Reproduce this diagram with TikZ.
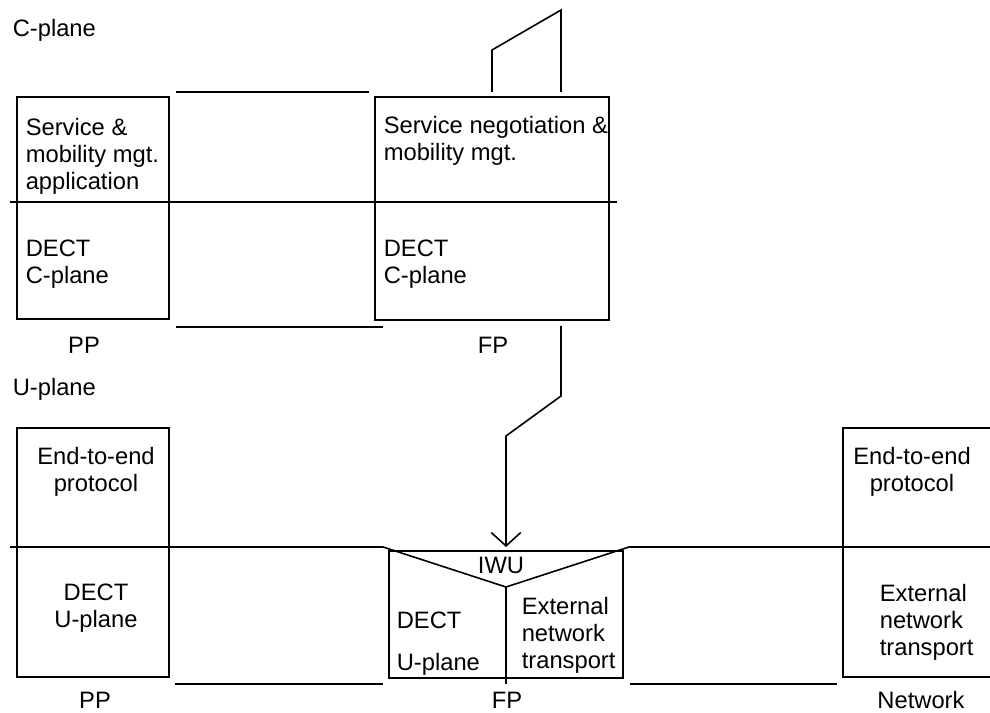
\documentclass[tikz,border=0pt]{standalone}
\usepackage{fontspec}
\setmainfont{Liberation Sans}
\usetikzlibrary{arrows.meta}
\tikzstyle{layer}=[draw, rectangle, inner sep=0pt, outer sep=0pt]
\tikzstyle{lbl}=[inner sep=0pt, align=left, anchor=west]
\tikzstyle{clbl}=[inner sep=0pt, align=center]

\begin{document}
\begin{tikzpicture}[x=0.75pt,y=-0.75pt,line width=1.2pt,font=\fontsize{17.8}{20.25}\selectfont]
  \useasboundingbox (0,0) rectangle (990,713);

  % C-plane
  \node at (12,30) (cpl)[lbl] {C-plane};
  \node[minimum width=114pt, minimum height=166.5pt] at (93,208) (ppc)[layer] {};
  \node[minimum width=175.5pt, minimum height=167.25pt] at (492,208.5) (fpc)[layer] {};
  \node at (25,156) (ppapp)[lbl] {Service \&\\mobility mgt.\\application};
  \node at (25,264) (ppdect)[lbl] {DECT\\C-plane};
  \node at (383,141) (fpneg)[lbl] {Service negotiation \&\\mobility mgt.};
  \node at (383,264) (fpdect)[lbl] {DECT\\C-plane};
  \node at (84,345) (pp1)[clbl] {PP};
  \node at (493,345) (fp1)[clbl] {FP};

  \draw (10,202) -- (617,202);
  \draw (176,92) -- (369,92);
  \draw (176,327) -- (383,327);

  \coordinate (t1) at (492,50);
  \coordinate (t2) at (561,10);
  \draw[shorten <=3.75pt, shorten >=3.75pt] (fpc.north -| t1) -- (t1) -- (t2) -- (fpc.north -| t2);

  % U-plane
  \node at (12,389) (upl)[lbl] {U-plane};
  \node[minimum width=114pt, minimum height=186.75pt] at (93,552.5) (ppu)[layer] {};
  \node[minimum width=175.5pt, minimum height=95.25pt] at (506,614.5) (iwu)[layer] {};
  \node at (96,472) (ppe2e)[clbl] {End-to-end\\protocol};
  \node at (96,608) (ppdu)[clbl] {DECT\\U-plane};
  \node at (501,565) (iwulbl)[clbl] {IWU};
  \node at (396,620) (fpdect2)[lbl] {DECT};
  \node at (396,664) (fpup)[lbl] {U-plane};
  \node at (521,635) (fpext)[lbl] {External\\network\\transport};
  \node at (912,472) (nwe2e)[clbl] {End-to-end\\protocol};
  \node at (879,622) (nwext)[lbl] {External\\network\\transport};
  \node at (95,700) (pp2)[clbl] {PP};
  \node at (507,700) (fp2)[clbl] {FP};
  \node at (921,700) (nw)[clbl] {Network};

  \draw (10,547) -- (383,547) -- (506,587) -- (629,547) -- (990,547);
  \draw (506,587) -- (iwu.south -| 506,0) -- ++(0,6);
  \draw (175,684) -- (383,684);
  \draw (630,684) -- (837,684);
  \draw (990,428) -- (843,428) -- (843,677) -- (990,677);

  \coordinate (b1) at (561,396);
  \coordinate (b2) at (506,436);
  \draw[-{Straight Barb[length=10pt,width=22pt]}, shorten <=4.5pt, shorten >=3pt] (fpc.south -| b1) -- (b1) -- (b2) -- (iwu.north);
\end{tikzpicture}
\end{document}
